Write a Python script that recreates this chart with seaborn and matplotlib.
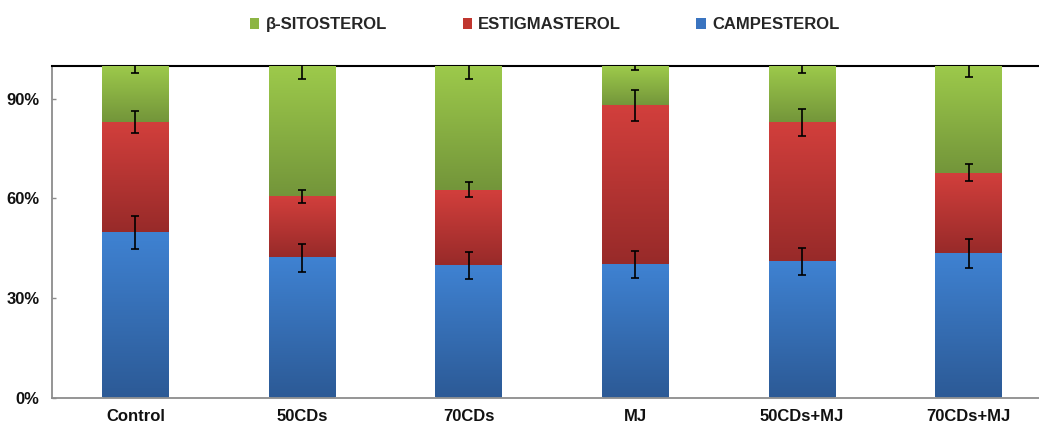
import numpy as np
import pandas as pd
import matplotlib
matplotlib.use("Agg")
import matplotlib.pyplot as plt
import seaborn as sns
from matplotlib.colors import LinearSegmentedColormap
from matplotlib.patches import Patch
from matplotlib.font_manager import FontProperties

# ---------------- data ----------------
categories = ['Control', '50CDs', '70CDs', 'MJ', '50CDs+MJ', '70CDs+MJ']
campesterol = [49.7, 42.1, 39.7, 40.0, 40.9, 43.3]
estigmasterol = [33.2, 18.4, 22.9, 48.0, 41.9, 24.4]
sitosterol = [17.1, 39.5, 37.4, 12.0, 17.2, 32.3]
camp_err = [5.0, 4.3, 4.1, 4.1, 4.1, 4.4]
estig_err = [3.3, 1.9, 2.3, 4.8, 4.1, 2.6]
sito_err = [2.2, 4.1, 4.1, 1.4, 2.1, 3.5]
series_names = ['β-SITOSTEROL', 'ESTIGMASTEROL', 'CAMPESTEROL']
ytick_vals = [0, 30, 60, 90]
ytick_labels = ['0%', '30%', '60%', '90%']

# ---------------- styling ----------------
sns.set_style("white")
plt.rcParams['font.family'] = ['Liberation Sans', 'DejaVu Sans']

grad = {
    'CAMPESTEROL': ('#2C5A96', '#3F82D2'),
    'ESTIGMASTEROL': ('#972A29', '#D23F3C'),
    'β-SITOSTEROL': ('#73953A', '#9DCA4B'),
}
legend_col = {
    'CAMPESTEROL': '#3A74C0',
    'ESTIGMASTEROL': '#C0362F',
    'β-SITOSTEROL': '#8DB544',
}

fig = plt.figure(figsize=(10.39, 4.23), dpi=100)
ax = fig.add_axes([52 / 1039, 25.5 / 423, 1000 / 1039, 331.8 / 423])

camp = np.array(campesterol)
est = np.array(estigmasterol)
sit = np.array(sitosterol)
layers = [
    ('β-SITOSTEROL', camp + est, camp + est + sit, sito_err),
    ('ESTIGMASTEROL', camp, camp + est, estig_err),
    ('CAMPESTEROL', np.zeros_like(camp), camp, camp_err),
]

for name, lower, upper, err in layers:
    df = pd.DataFrame({'category': categories, 'value': upper})
    n_before = len(ax.patches)
    sns.barplot(data=df, x='category', y='value', order=categories,
                color=legend_col[name], saturation=1, width=0.4,
                ax=ax, zorder=2)
    new_patches = ax.patches[n_before:]
    cmap = LinearSegmentedColormap.from_list(name, list(grad[name]))
    g = np.linspace(0, 1, 256).reshape(-1, 1)
    for p, lo, hi in zip(new_patches, lower, upper):
        x0 = p.get_x()
        w = p.get_width()
        ax.imshow(g, extent=[x0, x0 + w, lo, hi], origin='lower',
                  cmap=cmap, aspect='auto', interpolation='bilinear',
                  zorder=3)

# error bars at segment tops
for name, lower, upper, err in layers:
    ax.errorbar(np.arange(len(categories)), upper, yerr=err, fmt='none',
                ecolor='black', elinewidth=1.2, capsize=2.6, capthick=1.2,
                zorder=6)

ax.set_xlim(-0.5, len(categories) - 0.5)
ax.set_ylim(0, 100)
ax.set_xlabel('')
ax.set_ylabel('')

tick_font = FontProperties(family=['Liberation Sans Narrow', 'Liberation Sans'],
                           weight='bold', size=12)
ax.set_yticks(ytick_vals)
ax.set_yticklabels(ytick_labels, fontproperties=tick_font, color='#111111')
ax.set_xticks(np.arange(len(categories)))
ax.set_xticklabels(categories, fontproperties=tick_font, color='#111111')
ax.set_xticks(np.arange(len(categories) + 1) - 0.5, minor=True)
ax.tick_params(axis='x', which='major', length=0, pad=8)
ax.tick_params(axis='x', which='minor', length=3.6, width=1.0,
               color='#8C8C8C', direction='out')
ax.tick_params(axis='y', which='major', length=3, width=1.0,
               color='#8C8C8C', direction='in', pad=9, left=True)

for s in ['left', 'bottom']:
    ax.spines[s].set_color('#8C8C8C')
    ax.spines[s].set_linewidth(1.3)
ax.spines['right'].set_visible(False)
ax.spines['top'].set_visible(True)
ax.spines['top'].set_color('black')
ax.spines['top'].set_linewidth(1.5)
ax.grid(False)

handles = [Patch(facecolor=legend_col[n], edgecolor='none') for n in series_names]
fig.legend(handles, series_names, loc='center', bbox_to_anchor=(0.5245, 0.941),
           ncol=3, frameon=False,
           prop=FontProperties(family='Liberation Sans', weight='bold', size=12),
           handlelength=0.55, handleheight=0.65, handletextpad=0.4,
           columnspacing=4.5)

fig.savefig('out.png', dpi=100)
